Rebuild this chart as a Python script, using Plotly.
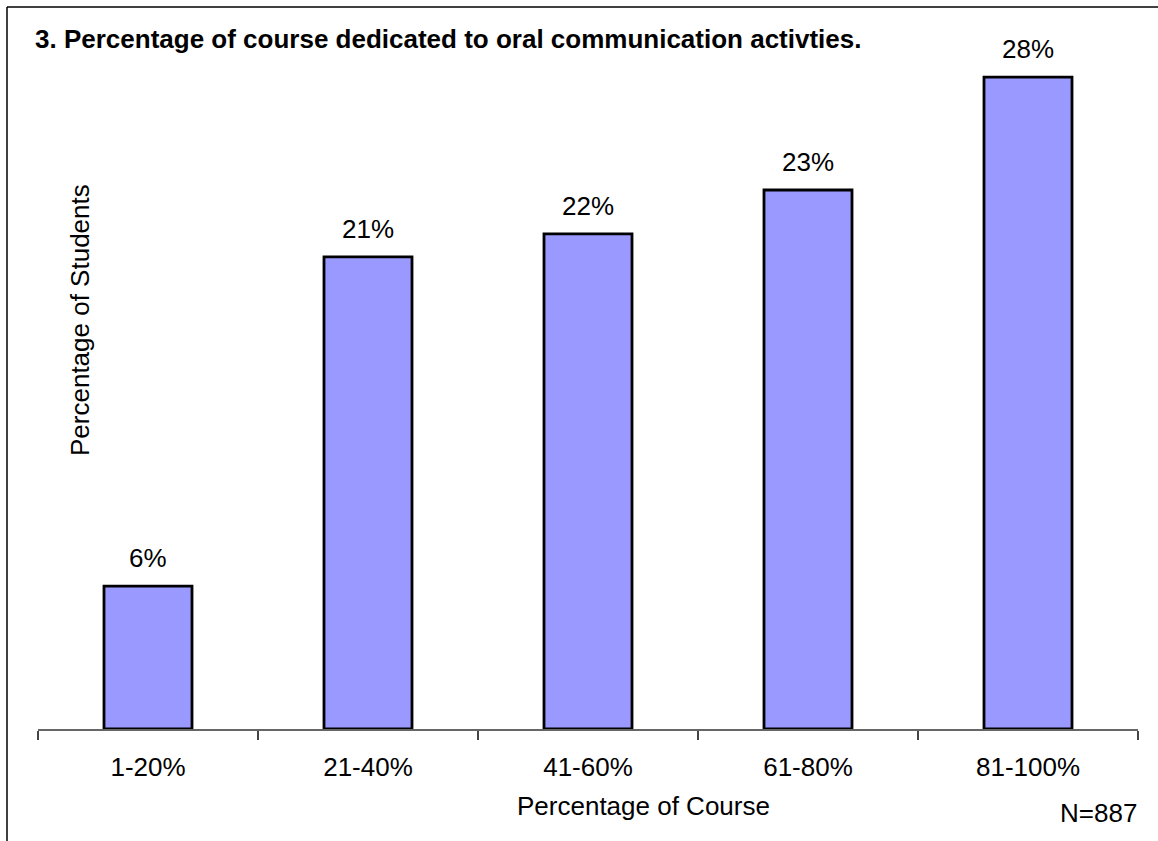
import plotly.graph_objects as go

categories = ["1-20%", "21-40%", "41-60%", "61-80%", "81-100%"]
values = [6.2, 20.5, 21.5, 23.4, 28.3]
value_labels = ["6%", "21%", "22%", "23%", "28%"]
title_text = "3. Percentage of course dedicated to oral communication activties."
x_title = "Percentage of Course"
y_title = "Percentage of Students"
n_text = "N=887"

W, H = 1158, 841
ml, mr, mt, mb = 38, 20, 38, 112
pw, ph = W - ml - mr, H - mt - mb

def px_x(p):
    return (p - ml) / pw

def px_y(p):
    return (H - mb - p) / ph

FONT = "Liberation Sans, Arial, sans-serif"
FS = 26

fig = go.Figure(go.Bar(
    x=categories, y=values, width=0.4,
    marker=dict(color="#9999FF", line=dict(color="black", width=2.8)),
    hoverinfo="skip",
))

for c, v, t in zip(categories, values, value_labels):
    fig.add_annotation(x=c, y=v, text=t, showarrow=False, yanchor="middle",
                       yshift=28, font=dict(size=FS, color="black", family=FONT))

fig.add_annotation(xref="paper", yref="paper", x=px_x(33), y=px_y(39), text="<b>" + title_text + "</b>",
                   showarrow=False, xanchor="left", yanchor="middle",
                   font=dict(size=FS, color="black", family=FONT))
fig.add_annotation(xref="paper", yref="paper", x=px_x(80), y=px_y(320), text=y_title,
                   textangle=-90, showarrow=False, xanchor="center", yanchor="middle",
                   font=dict(size=FS, color="black", family=FONT))
fig.add_annotation(xref="paper", yref="paper", x=px_x(643), y=px_y(806), text=x_title,
                   showarrow=False, xanchor="center", yanchor="middle",
                   font=dict(size=FS, color="black", family=FONT))
fig.add_annotation(xref="paper", yref="paper", x=px_x(1139), y=px_y(813), text=n_text,
                   showarrow=False, xanchor="right", yanchor="middle",
                   font=dict(size=FS, color="black", family=FONT))

# outer frame (top and left edges)
fig.add_shape(type="line", xref="paper", yref="paper", x0=px_x(7), x1=px_x(W + 5),
              y0=px_y(7), y1=px_y(7), line=dict(color="black", width=1.5))
fig.add_shape(type="line", xref="paper", yref="paper", x0=px_x(7), x1=px_x(7),
              y0=px_y(7), y1=px_y(H + 5), line=dict(color="black", width=1.5))

fig.update_layout(
    width=W, height=H,
    margin=dict(l=ml, r=mr, t=mt, b=mb),
    paper_bgcolor="white", plot_bgcolor="white",
    showlegend=False,
    font=dict(family=FONT, size=FS, color="black"),
    xaxis=dict(showline=True, linecolor="#666666", linewidth=1.5,
               ticks="outside", ticklen=9, tickcolor="#444444", tickwidth=1.5,
               tickson="boundaries", showgrid=False, zeroline=False,
               tickfont=dict(size=FS, color="black", family=FONT),
               ticklabelstandoff=14),
    yaxis=dict(range=[0, 30], visible=False, showgrid=False, zeroline=False),
)

fig.write_html("out.html", config={"displayModeBar": False},
               post_script="document.body.style.margin='0px';")
